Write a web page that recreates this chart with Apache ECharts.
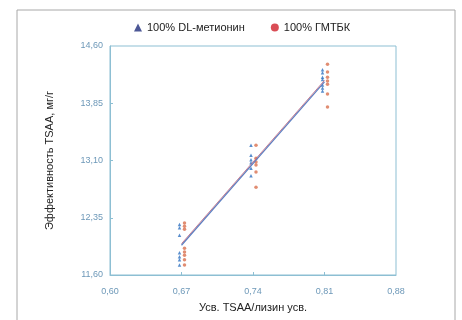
<!DOCTYPE html>
<html><head><meta charset="utf-8">
<script src="https://cdn.jsdelivr.net/npm/echarts@6/dist/echarts.min.js"></script>
<style>html,body{margin:0;padding:0;background:#fff}#c{width:462px;height:320px}</style>
</head><body><div id="c"></div>
<script>
const xTicks = [0.60, 0.67, 0.74, 0.81, 0.88];
const yTicks = [11.60, 12.35, 13.10, 13.85, 14.60];
const seriesNames = ['100% DL-метионин', '100% ГМТБК'];
// DL-methionine points: [x, y]
const dlX = [0.67,0.67,0.67,0.67,0.67,0.67,0.67, 0.74,0.74,0.74,0.74,0.74,0.74, 0.81,0.81,0.81,0.81,0.81,0.81,0.81];
const dlY = [12.26,12.22,12.12,11.89,11.84,11.80,11.73, 13.30,13.17,13.11,13.07,13.00,12.90, 14.29,14.25,14.19,14.16,14.09,14.05,14.01];
// HMTBa points
const hmX = [0.67,0.67,0.67,0.67,0.67,0.67,0.67,0.67, 0.74,0.74,0.74,0.74,0.74,0.74, 0.81,0.81,0.81,0.81,0.81,0.81,0.81];
const hmY = [12.28,12.24,12.20,11.95,11.90,11.86,11.80,11.73, 13.30,13.13,13.08,13.04,12.95,12.75, 14.36,14.26,14.19,14.14,14.10,13.97,13.80];
// regression lines (endpoints)
const dlLineX = [0.67, 0.81], dlLineY = [11.99, 14.13];
const hmLineX = [0.67, 0.81], hmLineY = [12.01, 14.15];

const pairs = (xs, ys) => xs.map((x, i) => [x, ys[i]]);
const fmt = v => v.toFixed(2).replace('.', ',');
const chart = echarts.init(document.getElementById('c'), null, {renderer: 'canvas'});
const axisCol = '#8dbfd3';
const labCol = '#6d98b8';
chart.setOption({
  backgroundColor: '#fff',
  animation: false,
  graphic: [{type: 'rect', shape: {x: 17, y: 10, width: 438, height: 320}, style: {fill: 'none', stroke: '#a8a8a8', lineWidth: 1}, silent: true}],
  legend: {
    top: 17, left: 129, itemGap: 26, itemWidth: 8, itemHeight: 8,
    textStyle: {fontFamily: 'Liberation Sans', fontSize: 11, color: '#222'},
    data: [
      {name: seriesNames[0], icon: 'triangle', itemStyle: {color: '#1f2d7c'}},
      {name: seriesNames[1], icon: 'circle', itemStyle: {color: '#d0212b'}}
    ]
  },
  grid: {left: 110, right: 66, top: 46, bottom: 45, show: true, borderColor: axisCol, borderWidth: 1, backgroundColor: '#fff'},
  xAxis: {
    type: 'value', min: 0.60, max: 0.88,
    name: 'Усв. TSAA/лизин усв.', nameLocation: 'middle', nameGap: 27,
    nameTextStyle: {fontFamily: 'Liberation Sans', fontSize: 11, color: '#222'},
    axisLine: {lineStyle: {color: axisCol}},
    axisTick: {show: true, inside: true, length: 3, customValues: xTicks.slice(1, 4), lineStyle: {color: axisCol}},
    axisLabel: {customValues: xTicks, formatter: fmt, color: labCol, fontSize: 9, margin: 12, fontFamily: 'Liberation Sans'},
    splitLine: {show: false}
  },
  yAxis: {
    type: 'value', min: 11.60, max: 14.60,
    name: 'Эффективность TSAA, мг/г', nameLocation: 'middle', nameGap: 55, nameRotate: 90,
    nameTextStyle: {fontFamily: 'Liberation Sans', fontSize: 11, color: '#222'},
    axisLine: {show: true, lineStyle: {color: axisCol}},
    axisTick: {show: true, inside: true, length: 3, customValues: yTicks.slice(1, 4), lineStyle: {color: axisCol}},
    axisLabel: {customValues: yTicks, formatter: fmt, color: labCol, fontSize: 9, margin: 7, fontFamily: 'Liberation Sans'},
    splitLine: {show: false}
  },
  series: [
    {name: seriesNames[0], type: 'scatter', symbol: 'triangle', symbolSize: 3.5, symbolOffset: [-2, 0],
     itemStyle: {color: '#2f72c0'}, data: pairs(dlX, dlY), z: 3},
    {name: seriesNames[1], type: 'scatter', symbol: 'circle', symbolSize: 3.5, symbolOffset: [3, 0],
     itemStyle: {color: '#d9704f'}, data: pairs(hmX, hmY), z: 3},
    {name: 'dl-line', type: 'line', showSymbol: false, symbol: 'none', data: pairs(dlLineX, dlLineY),
     lineStyle: {color: '#5a7fc2', width: 1.2}, z: 4},
    {name: 'hm-line', type: 'line', showSymbol: false, symbol: 'none', data: pairs(hmLineX, hmLineY),
     lineStyle: {color: '#b9607a', width: 1, opacity: 0.8}, z: 4}
  ]
});
</script></body></html>
